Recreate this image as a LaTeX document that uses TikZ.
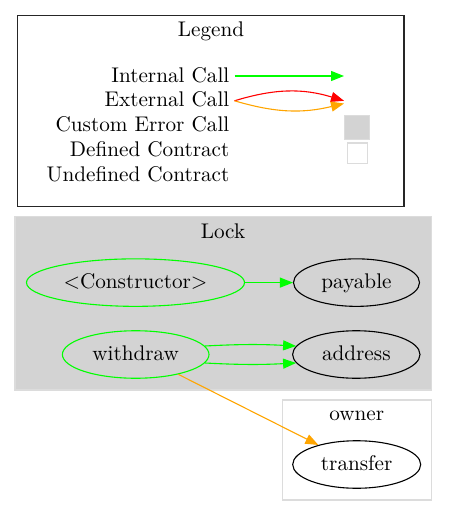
\documentclass[tikz,border=0pt]{standalone}
\usepackage{fontspec}
\newfontfamily\gvfont{lmroman10-regular.otf}
\usetikzlibrary{arrows.meta,shapes.geometric}
\definecolor{gvgreen}{HTML}{00FF00}
\definecolor{gvred}{HTML}{FF0000}
\definecolor{gvorange}{HTML}{FFA500}
\definecolor{gvgray}{HTML}{D3D3D3}
\definecolor{gvborder}{HTML}{DCDCDC}
\tikzset{
  every node/.style={font=\gvfont\fontsize{21.2}{25}\selectfont, inner sep=0pt},
  fn/.style={ellipse, draw=black, line width=1.1pt, minimum height=47.5pt, text height=14.5pt, text depth=3.5pt},
  fng/.style={fn, draw=gvgreen},
  gvtip/.style={-{Triangle[length=13pt,width=10pt]}},
  edge/.style={gvtip, line width=1.1pt},
  cluster/.style={rectangle, line width=1.3pt},
  lbl/.style={anchor=base east},
  ttl/.style={anchor=base},
}
\begin{document}
\begin{tikzpicture}[x=1pt,y=-1pt]
\useasboundingbox (0,0) rectangle (448,516);
% Legend
\node[cluster, draw=black!85, minimum width=386.7pt, minimum height=191pt] (legend) at (210.7,111.2) {};
\node[ttl] (legendtitle) at (211,36.7) {Legend};
\node[lbl] (l1) at (229.5,82.3) {Internal Call};
\node[lbl] (l2) at (229.5,106.7) {External Call};
\node[lbl] (l3) at (229.5,131.7) {Custom Error Call};
\node[lbl] (l4) at (229.5,156.7) {Defined Contract};
\node[lbl] (l5) at (229.5,181.7) {Undefined Contract};
\coordinate (a1s) at (234.5,76);
\coordinate (a1e) at (344,76);
\coordinate (a2s) at (234.5,100.8);
\coordinate (a2e) at (344,100.8);
\coordinate (a3e) at (344,103.5);
\draw[edge, draw=gvgreen] (a1s) -- (a1e);
\draw[edge, draw=gvred] (a2s) to[bend left=17] (a2e);
\draw[edge, draw=gvorange] (a2s) to[bend right=15] (a3e);
\node[rectangle, fill=gvgray, draw=gvborder, line width=1pt, minimum width=25pt, minimum height=24pt] (errbox) at (357,127.2) {};
\node[rectangle, fill=white, draw=gvborder, line width=1.3pt, minimum width=20pt, minimum height=20.5pt] (defbox) at (357.2,153.3) {};
% Lock cluster
\node[cluster, fill=gvgray, draw=gvborder, minimum width=416.7pt, minimum height=173.3pt] (lock) at (223.3,303.3) {};
\node[ttl] (locktitle) at (223,238.3) {Lock};
\node[fng, minimum width=218pt] (ctor) at (135.5,282.6) {<Constructor>};
\node[fn, minimum width=126pt] (payable) at (356.5,282.6) {payable};
\node[fng, minimum width=146.6pt] (withdraw) at (135.7,354.5) {withdraw};
\node[fn, minimum width=127.4pt] (address) at (356.3,354.5) {address};
% owner cluster
\node[cluster, draw=gvborder, fill=white, minimum width=149pt, minimum height=100pt] (owner) at (357.2,450) {};
\node[ttl] (ownertitle) at (356.7,420) {owner};
\node[fn, minimum width=128pt] (transfer) at (356.7,464.5) {transfer};
% edges
\draw[edge, draw=gvgreen] (ctor) -- (payable);
\draw[edge, draw=gvgreen] (withdraw.7) to[bend left=3] (address.172);
\draw[edge, draw=gvgreen] (withdraw.-7) to[bend right=3] (address.-172);
\draw[edge, draw=gvorange] (withdraw.-25.8) -- (transfer.153);
\end{tikzpicture}
\end{document}
